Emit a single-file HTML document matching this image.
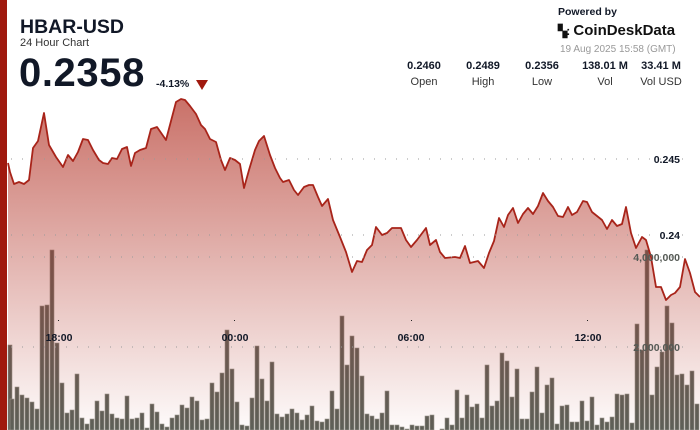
<!DOCTYPE html>
<html><head><meta charset="utf-8"><style>
body{margin:0;width:700px;height:430px;overflow:hidden;background:#fff;font-family:"Liberation Sans",sans-serif;position:relative}
.t{position:absolute;color:#111827}
</style></head><body>
<svg width="700" height="430" style="position:absolute;left:0;top:0">
<defs><linearGradient id="g" gradientUnits="userSpaceOnUse" x1="0" y1="95" x2="0" y2="430">
<stop offset="0" stop-color="#b4382c" stop-opacity="0.72"/><stop offset="1" stop-color="#b4382c" stop-opacity="0.02"/></linearGradient></defs>
<g fill="#5c6058" stroke="#9a9a92" stroke-width="0.6">
<rect x="8" y="345" width="4" height="85"/><rect x="10" y="399" width="4" height="31"/><rect x="15" y="387" width="4" height="43"/><rect x="20" y="395" width="4" height="35"/><rect x="25" y="398" width="4" height="32"/><rect x="30" y="402" width="4" height="28"/><rect x="35" y="409" width="4" height="21"/><rect x="40" y="306" width="4" height="124"/><rect x="45" y="305" width="4" height="125"/><rect x="50" y="250" width="4" height="180"/><rect x="55" y="343" width="4" height="87"/><rect x="60" y="383" width="4" height="47"/><rect x="65" y="413" width="4" height="17"/><rect x="70" y="410" width="4" height="20"/><rect x="75" y="374" width="4" height="56"/><rect x="80" y="418" width="4" height="12"/><rect x="85" y="424" width="4" height="6"/><rect x="90" y="419" width="4" height="11"/><rect x="95" y="401" width="4" height="29"/><rect x="100" y="411" width="4" height="19"/><rect x="105" y="394" width="4" height="36"/><rect x="110" y="414" width="4" height="16"/><rect x="115" y="418" width="4" height="12"/><rect x="120" y="419" width="4" height="11"/><rect x="125" y="396" width="4" height="34"/><rect x="130" y="419" width="4" height="11"/><rect x="135" y="418" width="4" height="12"/><rect x="140" y="413" width="4" height="17"/><rect x="145" y="428" width="4" height="2"/><rect x="150" y="404" width="4" height="26"/><rect x="155" y="412" width="4" height="18"/><rect x="160" y="424" width="4" height="6"/><rect x="165" y="427" width="4" height="3"/><rect x="170" y="418" width="4" height="12"/><rect x="175" y="415" width="4" height="15"/><rect x="180" y="405" width="4" height="25"/><rect x="185" y="408" width="4" height="22"/><rect x="190" y="397" width="4" height="33"/><rect x="195" y="401" width="4" height="29"/><rect x="200" y="420" width="4" height="10"/><rect x="205" y="419" width="4" height="11"/><rect x="210" y="383" width="4" height="47"/><rect x="215" y="392" width="4" height="38"/><rect x="220" y="373" width="4" height="57"/><rect x="225" y="330" width="4" height="100"/><rect x="230" y="369" width="4" height="61"/><rect x="235" y="402" width="4" height="28"/><rect x="240" y="425" width="4" height="5"/><rect x="245" y="426" width="4" height="4"/><rect x="250" y="398" width="4" height="32"/><rect x="255" y="346" width="4" height="84"/><rect x="260" y="379" width="4" height="51"/><rect x="265" y="401" width="4" height="29"/><rect x="270" y="362" width="4" height="68"/><rect x="275" y="414" width="4" height="16"/><rect x="280" y="417" width="4" height="13"/><rect x="285" y="414" width="4" height="16"/><rect x="290" y="409" width="4" height="21"/><rect x="295" y="413" width="4" height="17"/><rect x="300" y="420" width="4" height="10"/><rect x="305" y="415" width="4" height="15"/><rect x="310" y="406" width="4" height="24"/><rect x="315" y="421" width="4" height="9"/><rect x="320" y="422" width="4" height="8"/><rect x="325" y="419" width="4" height="11"/><rect x="330" y="391" width="4" height="39"/><rect x="335" y="409" width="4" height="21"/><rect x="340" y="316" width="4" height="114"/><rect x="345" y="365" width="4" height="65"/><rect x="350" y="336" width="4" height="94"/><rect x="355" y="348" width="4" height="82"/><rect x="360" y="376" width="4" height="54"/><rect x="365" y="414" width="4" height="16"/><rect x="370" y="416" width="4" height="14"/><rect x="375" y="419" width="4" height="11"/><rect x="380" y="413" width="4" height="17"/><rect x="385" y="391" width="4" height="39"/><rect x="390" y="425" width="4" height="5"/><rect x="395" y="425" width="4" height="5"/><rect x="400" y="427" width="4" height="3"/><rect x="405" y="429" width="4" height="1"/><rect x="410" y="425" width="4" height="5"/><rect x="415" y="426" width="4" height="4"/><rect x="420" y="426" width="4" height="4"/><rect x="425" y="416" width="4" height="14"/><rect x="430" y="415" width="4" height="15"/><rect x="440" y="429" width="4" height="1"/><rect x="445" y="418" width="4" height="12"/><rect x="450" y="425" width="4" height="5"/><rect x="455" y="390" width="4" height="40"/><rect x="460" y="418" width="4" height="12"/><rect x="465" y="395" width="4" height="35"/><rect x="470" y="407" width="4" height="23"/><rect x="475" y="404" width="4" height="26"/><rect x="480" y="418" width="4" height="12"/><rect x="485" y="365" width="4" height="65"/><rect x="490" y="406" width="4" height="24"/><rect x="495" y="401" width="4" height="29"/><rect x="500" y="353" width="4" height="77"/><rect x="505" y="361" width="4" height="69"/><rect x="510" y="397" width="4" height="33"/><rect x="515" y="369" width="4" height="61"/><rect x="520" y="419" width="4" height="11"/><rect x="525" y="419" width="4" height="11"/><rect x="530" y="392" width="4" height="38"/><rect x="535" y="367" width="4" height="63"/><rect x="540" y="413" width="4" height="17"/><rect x="545" y="385" width="4" height="45"/><rect x="550" y="378" width="4" height="52"/><rect x="555" y="424" width="4" height="6"/><rect x="560" y="406" width="4" height="24"/><rect x="565" y="405" width="4" height="25"/><rect x="570" y="422" width="4" height="8"/><rect x="575" y="422" width="4" height="8"/><rect x="580" y="401" width="4" height="29"/><rect x="585" y="421" width="4" height="9"/><rect x="590" y="397" width="4" height="33"/><rect x="595" y="425" width="4" height="5"/><rect x="600" y="418" width="4" height="12"/><rect x="605" y="422" width="4" height="8"/><rect x="610" y="417" width="4" height="13"/><rect x="615" y="394" width="4" height="36"/><rect x="620" y="395" width="4" height="35"/><rect x="625" y="394" width="4" height="36"/><rect x="630" y="423" width="4" height="7"/><rect x="635" y="324" width="4" height="106"/><rect x="640" y="350" width="4" height="80"/><rect x="645" y="250" width="4" height="180"/><rect x="650" y="395" width="4" height="35"/><rect x="655" y="367" width="4" height="63"/><rect x="660" y="352" width="4" height="78"/><rect x="665" y="306" width="4" height="124"/><rect x="670" y="323" width="4" height="107"/><rect x="675" y="375" width="4" height="55"/><rect x="680" y="374" width="4" height="56"/><rect x="685" y="385" width="4" height="45"/><rect x="690" y="371" width="4" height="59"/><rect x="695" y="404" width="4" height="26"/>
</g>
<path fill="url(#g)" d="M8,163 L10,172 14,184 19,182 24,184 29,180 33,148 38,141 44,113 49,145 56,157 63,167 68,155 73,161 78,152 83,139 88,140 93,150 99,160 103,163 108,164 112,158 117,159 122,149 127,147 131,166 135,153 140,150 146,148 151,129 157,127 166,140 176,102 181,99 185,100 190,106 196,114 201,125 205,129 210,139 216,142 221,160 225,170 230,158 235,160 240,164 244,188 249,170 255,150 259,141 264,136 270,155 275,168 280,178 283,182 289,180 294,190 298,195 304,187 309,185 313,185 318,197 322,206 328,199 333,220 340,237 346,252 352,272 357,261 362,262 367,250 372,245 376,227 382,235 387,233 392,228 401,228 406,240 411,247 417,240 426,228 430,245 436,240 440,252 445,258 455,257 460,258 465,246 470,263 478,261 484,268 489,253 494,241 499,218 504,227 508,215 513,208 518,223 523,214 528,208 533,214 538,206 543,193 548,201 553,207 558,216 563,217 568,207 572,215 577,212 583,201 587,202 592,212 602,220 607,229 612,220 617,226 622,224 626,207 631,233 636,248 642,237 646,240 651,257 656,287 661,287 666,300 671,295 675,293 680,287 685,259 690,273 695,292 700,297 L700,430 L8,430 Z"/>
<polyline fill="none" stroke="#a8241a" stroke-width="1.8" stroke-linejoin="round" points="8,163 10,172 14,184 19,182 24,184 29,180 33,148 38,141 44,113 49,145 56,157 63,167 68,155 73,161 78,152 83,139 88,140 93,150 99,160 103,163 108,164 112,158 117,159 122,149 127,147 131,166 135,153 140,150 146,148 151,129 157,127 166,140 176,102 181,99 185,100 190,106 196,114 201,125 205,129 210,139 216,142 221,160 225,170 230,158 235,160 240,164 244,188 249,170 255,150 259,141 264,136 270,155 275,168 280,178 283,182 289,180 294,190 298,195 304,187 309,185 313,185 318,197 322,206 328,199 333,220 340,237 346,252 352,272 357,261 362,262 367,250 372,245 376,227 382,235 387,233 392,228 401,228 406,240 411,247 417,240 426,228 430,245 436,240 440,252 445,258 455,257 460,258 465,246 470,263 478,261 484,268 489,253 494,241 499,218 504,227 508,215 513,208 518,223 523,214 528,208 533,214 538,206 543,193 548,201 553,207 558,216 563,217 568,207 572,215 577,212 583,201 587,202 592,212 602,220 607,229 612,220 617,226 622,224 626,207 631,233 636,248 642,237 646,240 651,257 656,287 661,287 666,300 671,295 675,293 680,287 685,259 690,273 695,292 700,297"/>
<g stroke="#999" stroke-width="1" stroke-dasharray="1,10">
<line x1="11" y1="159" x2="690" y2="159"/><line x1="11" y1="235" x2="690" y2="235"/><line x1="11" y1="257" x2="690" y2="257"/><line x1="11" y1="347" x2="690" y2="347"/>
</g>
<g fill="#222"><rect x="58" y="320" width="1" height="1"/><rect x="234" y="320" width="1" height="1"/><rect x="411" y="320" width="1" height="1"/><rect x="587" y="320" width="1" height="1"/></g>
<g font-family="Liberation Sans" font-weight="bold" font-size="10.5" fill="#111827" text-anchor="middle">
<text x="59" y="341">18:00</text><text x="235" y="341">00:00</text><text x="411" y="341">06:00</text><text x="588" y="341">12:00</text>
</g>
<g font-family="Liberation Sans" font-weight="bold" font-size="10.5" text-anchor="end">
<text x="680" y="163" fill="#111827">0.245</text><text x="680" y="239" fill="#111827">0.24</text>
<text x="680" y="261" fill="#555a55">4,000,000</text><text x="680" y="351" fill="#555a55">2,000,000</text>
</g>
<rect x="0" y="0" width="7" height="430" fill="#a0190e"/>
</svg>
<div class="t" style="left:20px;top:16px;font-size:19.5px;font-weight:bold">HBAR-USD</div>
<div class="t" style="left:20px;top:37px;font-size:11px;color:#333">24 Hour Chart</div>
<div class="t" style="left:19px;top:51px;font-size:40px;font-weight:bold;letter-spacing:0.6px">0.2358</div>
<div class="t" style="left:156px;top:78px;font-size:10.5px;font-weight:bold">-4.13%</div>
<div style="position:absolute;left:196px;top:80px;width:0;height:0;border-left:6px solid transparent;border-right:6px solid transparent;border-top:10px solid #a0190e"></div>
<div class="t" style="left:558px;top:6px;font-size:10.5px;font-weight:bold">Powered by</div>
<div class="t" style="left:558px;top:22px;font-size:15px;font-weight:bold;color:#111"><span style="font-size:12px;letter-spacing:-1px">▚:</span> CoinDeskData</div>
<div class="t" style="left:560px;top:44px;font-size:10px;color:#999">19 Aug 2025 15:58 (GMT)</div>
<div class="t" style="left:400px;top:60px;width:290px;font-size:11px">
<div style="position:absolute;left:0;width:48px;text-align:center"><b>0.2460</b><div style="margin-top:4px;color:#333">Open</div></div>
<div style="position:absolute;left:59px;width:48px;text-align:center"><b>0.2489</b><div style="margin-top:4px;color:#333">High</div></div>
<div style="position:absolute;left:118px;width:48px;text-align:center"><b>0.2356</b><div style="margin-top:4px;color:#333">Low</div></div>
<div style="position:absolute;left:174px;width:62px;text-align:center"><b>138.01 M</b><div style="margin-top:4px;color:#333">Vol</div></div>
<div style="position:absolute;left:236px;width:50px;text-align:center"><b>33.41 M</b><div style="margin-top:4px;color:#333">Vol USD</div></div>
</div>
</body></html>
